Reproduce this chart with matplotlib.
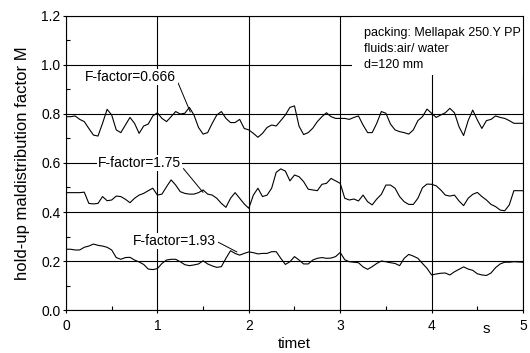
import numpy as np
import matplotlib
matplotlib.use('Agg')
import matplotlib.pyplot as plt
from matplotlib.patches import Rectangle

plt.rcParams['font.family'] = ['Liberation Sans', 'DejaVu Sans']

# hold-up maldistribution factor M, every 0.05 s
time = np.linspace(0, 5, 101)

ff_0666 = [0.789, 0.789, 0.792, 0.778, 0.769, 0.741, 0.714, 0.710, 0.762, 0.819,
           0.796, 0.735, 0.724, 0.755, 0.786, 0.762, 0.721, 0.751, 0.759, 0.792,
           0.805, 0.782, 0.769, 0.789, 0.810, 0.800, 0.803, 0.827, 0.796, 0.745,
           0.718, 0.724, 0.762, 0.796, 0.810, 0.782, 0.765, 0.765, 0.778, 0.741,
           0.735, 0.721, 0.705, 0.721, 0.745, 0.755, 0.751, 0.773, 0.796, 0.827,
           0.833, 0.750, 0.716, 0.724, 0.742, 0.769, 0.789, 0.805, 0.789, 0.782,
           0.782, 0.782, 0.778, 0.786, 0.792, 0.755, 0.724, 0.724, 0.762, 0.810,
           0.803, 0.759, 0.735, 0.728, 0.724, 0.718, 0.735, 0.773, 0.789, 0.820,
           0.803, 0.786, 0.796, 0.805, 0.823, 0.805, 0.748, 0.712, 0.773, 0.816,
           0.776, 0.741, 0.773, 0.778, 0.792, 0.786, 0.782, 0.773, 0.762, 0.762,
           0.762]

ff_175 = [0.479, 0.479, 0.479, 0.479, 0.481, 0.435, 0.433, 0.435, 0.463, 0.446,
          0.449, 0.465, 0.463, 0.452, 0.438, 0.456, 0.469, 0.476, 0.487, 0.497,
          0.469, 0.473, 0.503, 0.531, 0.510, 0.483, 0.476, 0.473, 0.473, 0.479,
          0.490, 0.473, 0.469, 0.456, 0.435, 0.419, 0.456, 0.479, 0.456, 0.433,
          0.415, 0.469, 0.497, 0.463, 0.469, 0.497, 0.562, 0.576, 0.567, 0.527,
          0.551, 0.544, 0.524, 0.493, 0.490, 0.487, 0.513, 0.517, 0.537, 0.527,
          0.517, 0.456, 0.449, 0.453, 0.445, 0.469, 0.442, 0.429, 0.453, 0.472,
          0.510, 0.510, 0.497, 0.463, 0.442, 0.431, 0.431, 0.456, 0.499, 0.514,
          0.513, 0.507, 0.490, 0.469, 0.465, 0.469, 0.445, 0.426, 0.456, 0.472,
          0.480, 0.463, 0.449, 0.431, 0.422, 0.408, 0.405, 0.429, 0.487, 0.487,
          0.487]

ff_193 = [0.248, 0.248, 0.245, 0.245, 0.256, 0.261, 0.269, 0.264, 0.261, 0.256,
          0.245, 0.214, 0.207, 0.214, 0.215, 0.204, 0.196, 0.186, 0.167, 0.165,
          0.169, 0.190, 0.204, 0.207, 0.207, 0.197, 0.185, 0.181, 0.184, 0.188,
          0.201, 0.188, 0.180, 0.174, 0.177, 0.211, 0.242, 0.231, 0.224, 0.231,
          0.237, 0.234, 0.229, 0.231, 0.231, 0.238, 0.238, 0.211, 0.186, 0.197,
          0.218, 0.204, 0.188, 0.188, 0.204, 0.211, 0.214, 0.211, 0.212, 0.218,
          0.235, 0.205, 0.197, 0.195, 0.193, 0.176, 0.166, 0.177, 0.190, 0.200,
          0.197, 0.193, 0.190, 0.181, 0.211, 0.227, 0.220, 0.211, 0.190, 0.170,
          0.143, 0.147, 0.150, 0.151, 0.143, 0.156, 0.166, 0.176, 0.167, 0.162,
          0.148, 0.143, 0.141, 0.151, 0.173, 0.188, 0.195, 0.195, 0.197, 0.196,
          0.195]

fig = plt.figure(figsize=(5.3, 3.53), dpi=100)
ax = fig.add_axes([0.1245, 0.1218, 0.8623, 0.8329])

ax.plot(time, ff_0666, color='black', lw=0.8, zorder=3)
ax.plot(time, ff_175, color='black', lw=0.8, zorder=3)
ax.plot(time, ff_193, color='black', lw=0.8, zorder=3)

ax.set_xlim(0, 5)
ax.set_ylim(0, 1.2)
ax.set_xticks([0, 1, 2, 3, 4, 5])
ax.set_yticks([0.0, 0.2, 0.4, 0.6, 0.8, 1.0, 1.2])
ax.set_yticklabels(['0.0', '0.2', '0.4', '0.6', '0.8', '1.0', '1.2'])
ax.set_xticks(np.arange(0.5, 5, 1), minor=True)
ax.set_yticks(np.arange(0.1, 1.2, 0.2), minor=True)
ax.tick_params(which='major', direction='out', length=2.5, width=0.8,
               labelsize=10, pad=1.5)
ax.tick_params(axis='x', which='major', pad=4)
ax.tick_params(which='minor', direction='in', length=3, width=0.8)
ax.grid(True, which='major', color='black', lw=0.8, zorder=1)
ax.set_axisbelow(True)
for sp in ax.spines.values():
    sp.set_linewidth(0.8)

ax.set_ylabel('hold-up maldistribution factor M', fontsize=12, labelpad=8)
ax.set_xlabel('timet', fontsize=11, labelpad=3)
ax.text(4.6, -0.078, 's', fontsize=11, ha='center', va='center')

# white box behind the note in the top right corner
ax.add_patch(Rectangle((0.626, 0.799), 0.374, 0.201, transform=ax.transAxes,
                       facecolor='white', edgecolor='none', zorder=2))
ax.text(3.26, 1.155, 'packing: Mellapak 250.Y PP\nfluids:air/ water\nd=120 mm',
        fontsize=9, va='top', ha='left', linespacing=1.45, zorder=4,
        transform=ax.transData)

box = dict(facecolor='white', edgecolor='none', pad=1)
ax.annotate('F-factor=0.666', xy=(1.36, 0.808), xytext=(0.21, 0.951),
            fontsize=10, va='center', ha='left', bbox=box, zorder=4,
            arrowprops=dict(arrowstyle='-', lw=0.7, color='black',
                            shrinkA=1, shrinkB=0, relpos=(1, 0.4)))
ax.annotate('F-factor=1.75', xy=(1.50, 0.48), xytext=(0.35, 0.60),
            fontsize=10, va='center', ha='left', bbox=box, zorder=4,
            arrowprops=dict(arrowstyle='-', lw=0.7, color='black',
                            shrinkA=1, shrinkB=0, relpos=(1, 0.3)))
ax.annotate('F-factor=1.93', xy=(1.87, 0.237), xytext=(0.73, 0.282),
            fontsize=10, va='center', ha='left', bbox=box, zorder=4,
            arrowprops=dict(arrowstyle='-', lw=0.7, color='black',
                            shrinkA=1, shrinkB=0, relpos=(1, 0.5)))

fig.savefig('out.png', dpi=100)
